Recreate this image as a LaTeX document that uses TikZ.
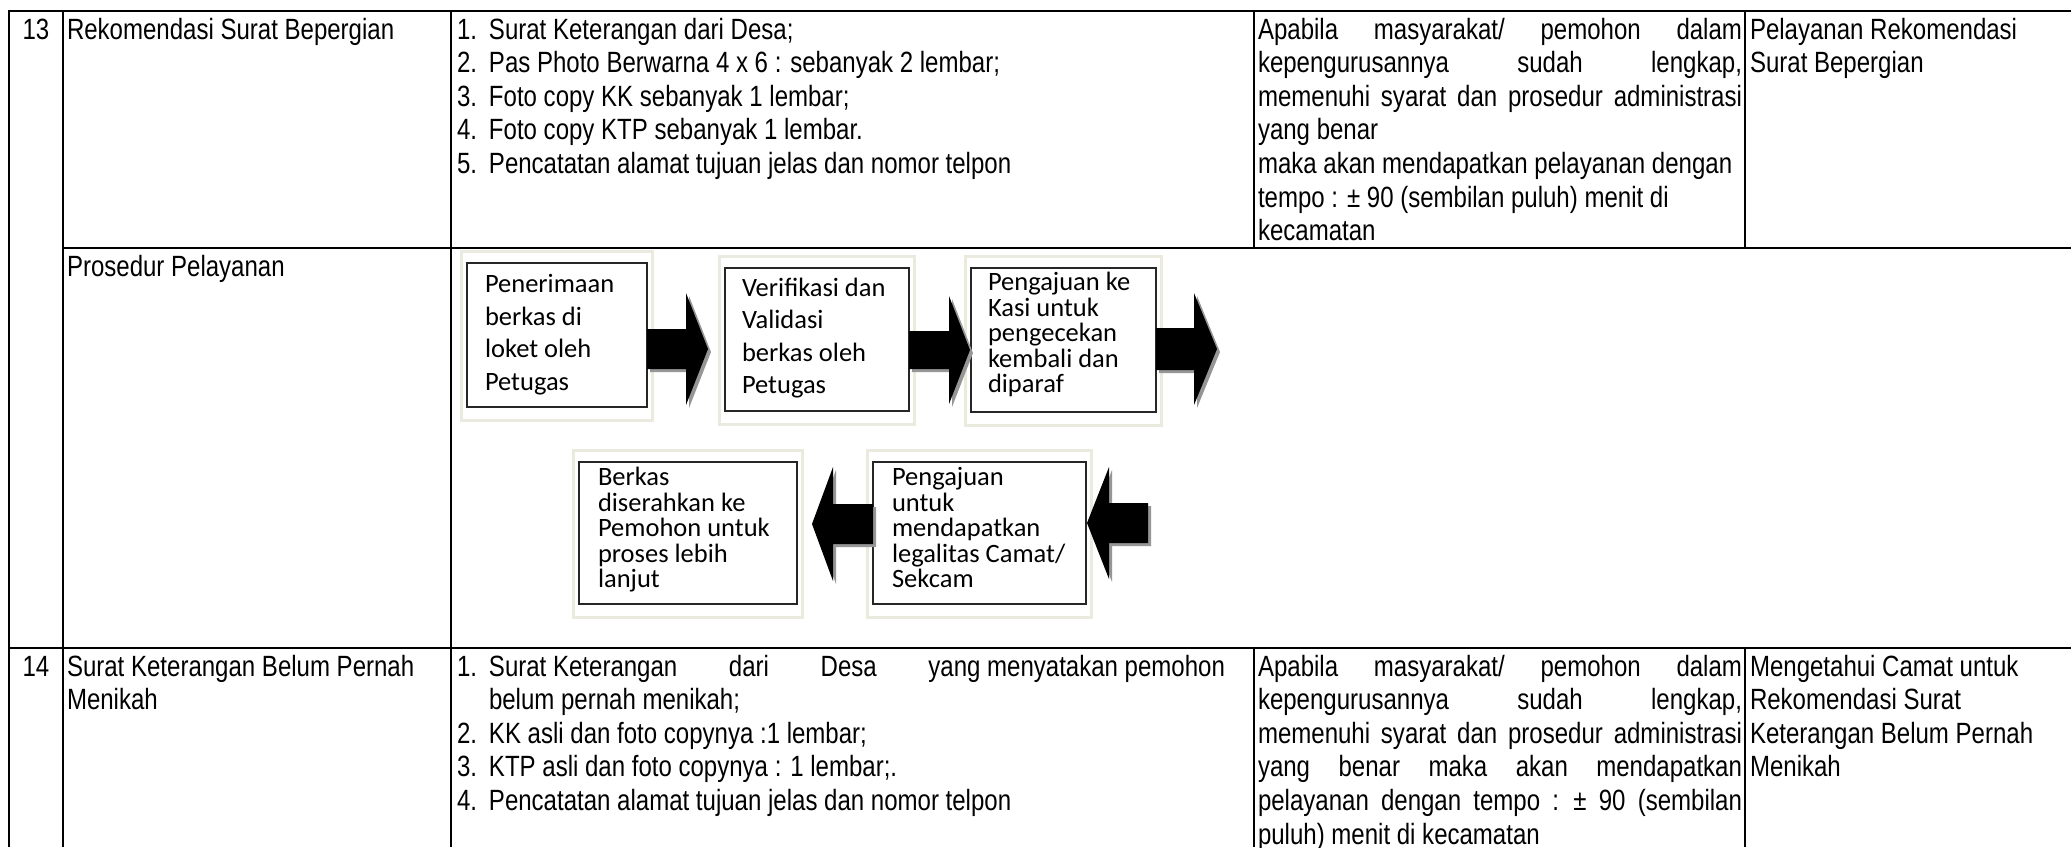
\documentclass[tikz,border=0pt]{standalone}
\usepackage{fontspec}
\setmainfont{Liberation Sans}
\newfontfamily\tabfont[FakeStretch=0.82]{Liberation Sans}
\newfontfamily\boxfont{Carlito}
\usetikzlibrary{calc}
\definecolor{framec}{RGB}{234,234,222}
\definecolor{arrowshadowc}{RGB}{150,150,150}
\newcommand\tabsize{\tabfont\fontsize{29.3}{33.6}\selectfont}
\newcommand\boxsizeA{\boxfont\fontsize{26.5}{32.5}\selectfont}
\newcommand\boxsizeB{\boxfont\fontsize{26.5}{25.5}\selectfont}
\newcommand\myJ[1]{\hbox to\hsize{#1}}
\newcommand\myL[1]{\hbox to\hsize{#1\hfil}}
\newcommand\myN[2]{\hbox to\hsize{\hbox to 32pt{#1\hfil}#2\hfil}}
\newcommand\myNJ[2]{\hbox to\hsize{\hbox to 32pt{#1\hfil}#2}}
% start x, head base x, tip x, mid y, shaft half height, head half height
\newcommand\blockarrow[6]{%
  \fill[arrowshadowc] ({#1+3},{#4-#5+3}) -- ({#2+3},{#4-#5+3}) -- ({#2+3},{#4-#6+3}) -- ({#3+3},{#4+3}) -- ({#2+3},{#4+#6+3}) -- ({#2+3},{#4+#5+3}) -- ({#1+3},{#4+#5+3}) -- cycle;
  \fill[black] ({#1},{#4-#5}) -- ({#2},{#4-#5}) -- ({#2},{#4-#6}) -- ({#3},{#4}) -- ({#2},{#4+#6}) -- ({#2},{#4+#5}) -- ({#1},{#4+#5}) -- cycle;}
\begin{document}
\begin{tikzpicture}[x=1pt,y=-1pt,
  tab/.style={line width=2.4pt,draw=black},
  box/.style={draw=black!85,line width=1.8pt,fill=white,inner sep=0pt,outer sep=0pt,anchor=north west},
  frame/.style={draw=framec,line width=3pt},
  cell/.style={inner sep=0pt,outer sep=0pt,anchor=base west},
  num/.style={inner sep=0pt,outer sep=0pt,anchor=base},
  btext/.style={inner sep=0pt,outer sep=0pt,anchor=base west}]
\useasboundingbox (0,0) rectangle (2071,847);
\fill[white] (0,0) rectangle (2071,847);

% ---------- table rules ----------
\draw[tab] (9,847) -- (9,11) -- (2071,11);
\draw[tab] (63,11) -- (63,847);
\draw[tab] (451,11) -- (451,847);
\draw[tab] (1254,11) -- (1254,248);
\draw[tab] (1745,11) -- (1745,248);
\draw[tab] (63,248) -- (2071,248);
\draw[tab] (9,648) -- (2071,648);
\draw[tab] (1254,648) -- (1254,847);
\draw[tab] (1745,648) -- (1745,847);

% ---------- row 13 ----------
\node[num] (n13) at (36,39) {\tabsize 13};
\node[cell] (r13c2) at (67,39) {\tabsize Rekomendasi Surat Bepergian};
\node[cell] (r13c3) at (457,39) {\vtop{\hsize=760pt\tabsize
  \myN{1.}{Surat Keterangan dari Desa;}
  \myN{2.}{Pas Photo Berwarna 4 x 6 : sebanyak 2 lembar;}
  \myN{3.}{Foto copy KK sebanyak 1 lembar;}
  \myN{4.}{Foto copy KTP sebanyak 1 lembar.}
  \myN{5.}{Pencatatan alamat tujuan jelas dan nomor telpon}}};
\node[cell] (r13c4) at (1258,39) {\vtop{\hsize=484pt\tabsize
  \myJ{Apabila \hfill masyarakat/ \hfill pemohon \hfill dalam}
  \myJ{kepengurusannya \hfill sudah \hfill lengkap,}
  \myJ{memenuhi \hfill syarat \hfill dan \hfill prosedur \hfill administrasi}
  \myL{yang benar}
  \myL{maka akan mendapatkan pelayanan dengan}
  \myL{tempo : ± 90 (sembilan puluh) menit di}
  \myL{kecamatan}}};
\node[cell] (r13c5) at (1750,39) {\vtop{\hsize=310pt\tabsize
  \myL{Pelayanan Rekomendasi}
  \myL{Surat Bepergian}}};

% ---------- prosedur row ----------
\node[cell] (pros) at (67,276) {\tabsize Prosedur Pelayanan};

\node[box,minimum width=180pt,minimum height=144pt] (b1) at (467,263) {};
\node[box,minimum width=184pt,minimum height=143pt] (b2) at (725,268) {};
\node[box,minimum width=185pt,minimum height=144pt] (b3) at (971,268) {};
\node[box,minimum width=213pt,minimum height=142pt] (b4) at (873,462) {};
\node[box,minimum width=218pt,minimum height=142pt] (b5) at (579,462) {};

\foreach \b in {b1,b2,b3,b4,b5}{
  \draw[frame] ($(\b.north west)+(-6,-12)$) rectangle ($(\b.south east)+(5,13)$);
}

\node[btext] (t1) at ($(b1.north west)+(18,29.5)$) {\vtop{\boxsizeA
  \hbox{Penerimaan}\hbox{berkas di}\hbox{loket oleh}\hbox{Petugas}}};
\node[btext] (t2) at ($(b2.north west)+(17,28)$) {\vtop{\boxsizeA
  \hbox{Verifikasi dan}\hbox{Validasi}\hbox{berkas oleh}\hbox{Petugas}}};
\node[btext] (t3) at ($(b3.north west)+(17,22.5)$) {\vtop{\boxsizeB
  \hbox{Pengajuan ke}\hbox{Kasi untuk}\hbox{pengecekan}\hbox{kembali dan}\hbox{diparaf}}};
\node[btext] (t4) at ($(b4.north west)+(19,23.5)$) {\vtop{\boxsizeB
  \hbox{Pengajuan}\hbox{untuk}\hbox{mendapatkan}\hbox{legalitas Camat/}\hbox{Sekcam}}};
\node[btext] (t5) at ($(b5.north west)+(19,23.5)$) {\vtop{\boxsizeB
  \hbox{Berkas}\hbox{diserahkan ke}\hbox{Pemohon untuk}\hbox{proses lebih}\hbox{lanjut}}};

% block arrows
\blockarrow{647}{686}{708}{349}{20}{56}
\blockarrow{909}{949}{970}{350}{19}{54}
\blockarrow{1156}{1194}{1217}{349}{21}{56}
\blockarrow{1148}{1109}{1087}{523}{20}{56}
\blockarrow{873}{833}{812}{524}{20}{57}

% ---------- row 14 ----------
\node[num] (n14) at (36,676) {\tabsize 14};
\node[cell] (r14c2) at (67,676) {\vtop{\hsize=380pt\tabsize
  \myL{Surat Keterangan Belum Pernah}
  \myL{Menikah}}};
\node[cell] (r14c3) at (457,676) {\vtop{\hsize=768pt\tabsize
  \myNJ{1.}{Surat Keterangan \hfill dari \hfill Desa \hfill yang menyatakan pemohon}
  \myL{\hskip32pt belum pernah menikah;}
  \myN{2.}{KK asli dan foto copynya :1 lembar;}
  \myN{3.}{KTP asli dan foto copynya : 1 lembar;.}
  \myN{4.}{Pencatatan alamat tujuan jelas dan nomor telpon}}};
\node[cell] (r14c4) at (1258,676) {\vtop{\hsize=484pt\tabsize
  \myJ{Apabila \hfill masyarakat/ \hfill pemohon \hfill dalam}
  \myJ{kepengurusannya \hfill sudah \hfill lengkap,}
  \myJ{memenuhi \hfill syarat \hfill dan \hfill prosedur \hfill administrasi}
  \myJ{yang \hfill benar \hfill maka \hfill akan \hfill mendapatkan}
  \myJ{pelayanan \hfill dengan \hfill tempo \hfill : \hfill ± \hfill 90 \hfill (sembilan}
  \myL{puluh) menit di kecamatan}}};
\node[cell] (r14c5) at (1750,676) {\vtop{\hsize=310pt\tabsize
  \myL{Mengetahui Camat untuk}
  \myL{Rekomendasi Surat}
  \myL{Keterangan Belum Pernah}
  \myL{Menikah}}};
\end{tikzpicture}
\end{document}
